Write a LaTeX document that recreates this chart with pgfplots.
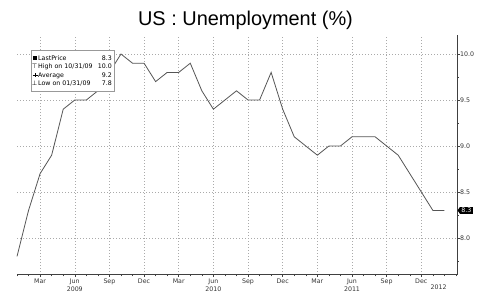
\documentclass[border=0pt]{standalone}
\usepackage{fontspec}
\setmainfont{Liberation Sans}
\newfontfamily\dv{DejaVu Sans}
\usepackage{pgfplots}
\pgfplotsset{compat=1.18}
\usetikzlibrary{shapes.symbols}
\definecolor{linegray}{RGB}{85,85,85}
\definecolor{gridgray}{RGB}{170,170,170}
\begin{document}
\begin{tikzpicture}[x=1bp,y=1bp]
\path[use as bounding box] (-17,-21.5) rectangle (470,274.5);
\begin{axis}[
  at={(0,0)}, anchor=south west,
  scale only axis, width=440bp, height=239.5bp,
  xmin=0, xmax=38.09, ymin=7.603, ymax=10.2065,
  axis x line=bottom, axis y line=right,
  axis line style={-, black!75, line width=0.6bp},
  xtick={2,5,8,11,14,17,20,23,26,29,32,35},
  xticklabels={Mar,{Jun\\2009},Sep,Dec,Mar,{Jun\\2010},Sep,Dec,Mar,{Jun\\2011},Sep,Dec},
  minor xtick={0,...,38},
  ytick={8,8.5,9,9.5,10},
  yticklabels={8.0,8.5,9.0,9.5,10.0},
  minor ytick={7.75,8.25,8.75,9.25,9.75},
  tick align=outside,
  major tick length=2.5bp, minor tick length=1.8bp,
  tick style={black!75, line width=0.5bp},
  xticklabel style={font=\dv\fontsize{6.3}{8}\selectfont, align=center, inner sep=0pt, yshift=-1.5bp, text=black!80},
  yticklabel style={font=\dv\fontsize{6.3}{7}\selectfont, anchor=west, inner sep=0pt, xshift=0.5bp, text=black!80},
  grid=major,
  major grid style={gridgray, dash pattern=on 0.7bp off 2.3bp, line width=0.5bp},
  clip=false,
]
\addplot[linegray, line width=0.8bp, mark=none] coordinates {
(0,7.8) (1,8.3) (2,8.7) (3,8.9) (4,9.4) (5,9.5) (6,9.5) (7,9.6) (8,9.8) (9,10.0)
(10,9.9) (11,9.9) (12,9.7) (13,9.8) (14,9.8) (15,9.9) (16,9.6) (17,9.4) (18,9.5) (19,9.6)
(20,9.5) (21,9.5) (22,9.8) (23,9.4) (24,9.1) (25,9.0) (26,8.9) (27,9.0) (28,9.0) (29,9.1)
(30,9.1) (31,9.1) (32,9.0) (33,8.9) (34,8.7) (35,8.5) (36,8.3) (37,8.3)
};
% year separators
\draw[black!70, line width=0.5bp] (axis cs:11,7.603) ++(0,-7.5bp) -- ++(0,-14bp);
\draw[black!70, line width=0.5bp] (axis cs:23,7.603) ++(0,-7.5bp) -- ++(0,-14bp);
\draw[black!70, line width=0.5bp] (axis cs:35,7.603) ++(0,-7.5bp) -- ++(0,-14bp);
\node[font=\dv\fontsize{6.3}{8}\selectfont, text=black!80, anchor=base] at (axis cs:36.5,7.603) [yshift=-15bp] {2012};
% last price tag
\node[signal, signal to=west, signal pointer angle=110, fill=black, text=white, inner xsep=1.5bp, inner ysep=1bp, anchor=west, font=\dv\fontsize{6.3}{7}\selectfont] at (axis cs:38.09,8.3) [xshift=0.3bp] {8.3};
\end{axis}
% title
\node[anchor=base, font=\fontsize{20}{24}\selectfont] at (228.5,249.5) {US : Unemployment (\%)};
% legend box
\draw[gray!80, fill=white, line width=0.6bp] (14,224.5) rectangle (97,183);
\begin{scope}[font=\dv\fontsize{6.3}{7}\selectfont]
\fill[black] (15.5,214.5) rectangle (20,219);
\node[anchor=base west, inner sep=0pt] at (21,214.5) {LastPrice};
\node[anchor=base east, inner sep=0pt] at (95,214.5) {8.3};
\node[anchor=base west, inner sep=0pt] at (14.8,206) {⊤};
\node[anchor=base west, inner sep=0pt] at (21,206) {High on 10/31/09};
\node[anchor=base east, inner sep=0pt] at (95,206) {10.0};
\draw[black, line width=0.5bp] (15.5,199.5) -- (20.5,199.5) (18,197.8) -- (18,201.2);
\node[anchor=base west, inner sep=0pt] at (21,197.5) {Average};
\node[anchor=base east, inner sep=0pt] at (95,197.5) {9.2};
\node[anchor=base west, inner sep=0pt] at (14.8,189) {⊥};
\node[anchor=base west, inner sep=0pt] at (21,189) {Low on 01/31/09};
\node[anchor=base east, inner sep=0pt] at (95,189) {7.8};
\end{scope}
\end{tikzpicture}
\end{document}
